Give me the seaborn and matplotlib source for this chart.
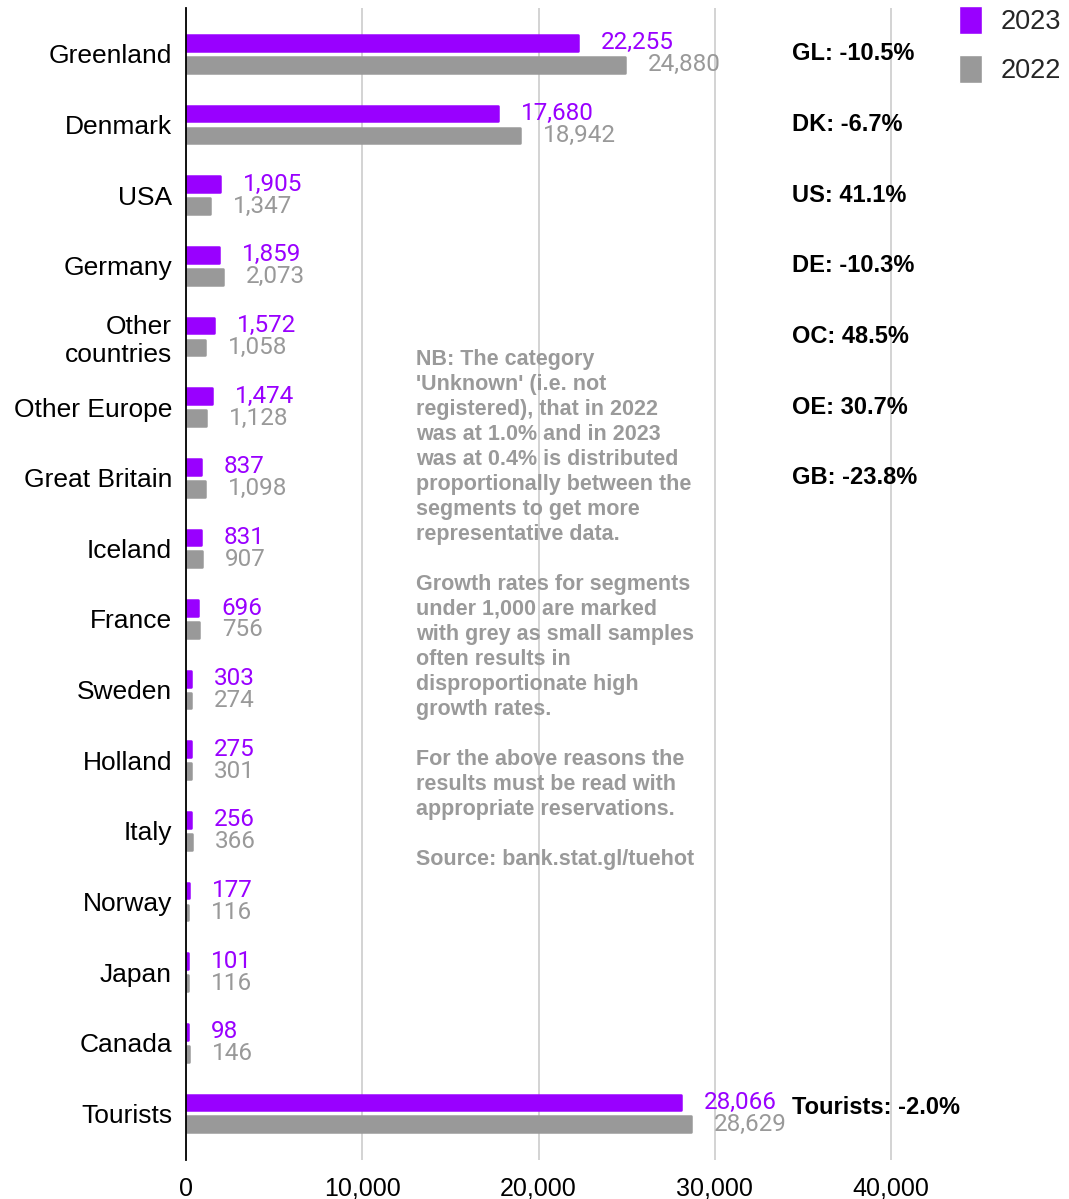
import matplotlib
matplotlib.use("Agg")
import matplotlib.pyplot as plt
import pandas as pd
import seaborn as sns

# Visitor counts by country of residence, 2023 vs 2022
categories = ["Greenland", "Denmark", "USA", "Germany", "Other\ncountries",
              "Other Europe", "Great Britain", "Iceland", "France", "Sweden",
              "Holland", "Italy", "Norway", "Japan", "Canada", "Tourists"]
values_2023 = [22255, 17680, 1905, 1859, 1572, 1474, 837, 831, 696, 303,
               275, 256, 177, 101, 98, 28066]
values_2022 = [24880, 18942, 1347, 2073, 1058, 1128, 1098, 907, 756, 274,
               301, 366, 116, 116, 146, 28629]
years = ["2023", "2022"]

# Growth-rate annotations (category index -> text)
growth_rows = [0, 1, 2, 3, 4, 5, 6, 15]
growth_labels = ["GL: -10.5%", "DK: -6.7%", "US: 41.1%", "DE: -10.3%",
                 "OC: 48.5%", "OE: 30.7%", "GB: -23.8%", "Tourists: -2.0%"]

x_ticks = [0, 10000, 20000, 30000, 40000]

note = ("NB: The category\n'Unknown' (i.e. not\nregistered), that in 2022\n"
        "was at 1.0% and in 2023\nwas at 0.4% is distributed\n"
        "proportionally between the\nsegments to get more\n"
        "representative data.\n\nGrowth rates for segments\n"
        "under 1,000 are marked\nwith grey as small samples\n"
        "often results in\ndisproportionate high\ngrowth rates.\n\n"
        "For the above reasons the\nresults must be read with\n"
        "appropriate reservations.\n\nSource: bank.stat.gl/tuehot")

PURPLE = "#9900ff"
GREY = "#999999"

df = pd.DataFrame({
    "category": categories * 2,
    "visitors": values_2023 + values_2022,
    "year": [years[0]] * len(categories) + [years[1]] * len(categories),
})

sns.set_style("white")
plt.rcParams["font.family"] = ["Liberation Sans", "DejaVu Sans"]

W, H = 1069, 1199
fig = plt.figure(figsize=(W / 100, H / 100), dpi=100)
px_per_unit = 705 / 40000
xmax = 41000
ax = fig.add_axes([186 / W, 1 - 1160 / H, xmax * px_per_unit / W, 1152 / H])

sns.barplot(data=df, y="category", x="visitors", hue="year",
            hue_order=years, palette=[PURPLE, GREY], orient="h",
            width=0.62, gap=0.28, saturation=1, ax=ax)

# soften bar corners
for container, col in zip(ax.containers, [PURPLE, GREY]):
    for bar in container:
        bar.set_edgecolor(col)
        bar.set_linewidth(1.8)
        bar.set_joinstyle("round")

ax.set_xlim(0, xmax)
ax.set_ylim(15.66, -0.65)
ax.set_xticks(x_ticks)
ax.set_xticklabels([f"{t:,}" for t in x_ticks])
ax.set_xlabel("")
ax.set_ylabel("")
ax.grid(axis="x", color="#cccccc", linewidth=1.2)
ax.set_axisbelow(True)
for s in ["top", "right", "bottom"]:
    ax.spines[s].set_visible(False)
ax.spines["left"].set_color("black")
ax.spines["left"].set_linewidth(1.3)
ax.spines["left"].set_zorder(5)
ax.tick_params(axis="y", length=0, pad=10, labelsize=19, labelcolor="black")
ax.tick_params(axis="x", length=0, pad=12, labelsize=18, labelcolor="black")
for lbl in ax.get_yticklabels():
    lbl.set_multialignment("right")

# value labels
for container, col in zip(ax.containers, [PURPLE, GREY]):
    ax.bar_label(container, fmt="{:,.0f}", padding=16.5, color=col,
                 fontsize=17.5, fontfamily="Roboto")

# growth-rate labels
for row, txt in zip(growth_rows, growth_labels):
    dy = -0.08 if row == 15 else 0
    ax.text(34370, row + dy, txt, fontsize=17, fontweight="bold",
            color="black", va="center", ha="left", clip_on=False)

# explanatory note
fig.text(416 / W, 1 - 349 / H, note, fontsize=15.5, fontweight="bold",
         color="#9a9a9a", va="top", ha="left", linespacing=1.25)

handles, labels = ax.get_legend_handles_labels()
ax.get_legend().remove()
fig.legend(handles, labels, loc="upper left",
           bbox_to_anchor=(959 / W, 1 - 6 / H), bbox_transform=fig.transFigure,
           frameon=False, fontsize=19.5, handlelength=0.85, handleheight=1.2,
           handletextpad=0.7, labelspacing=0.75, borderpad=0, borderaxespad=0)

fig.savefig("out.png", dpi=100)
